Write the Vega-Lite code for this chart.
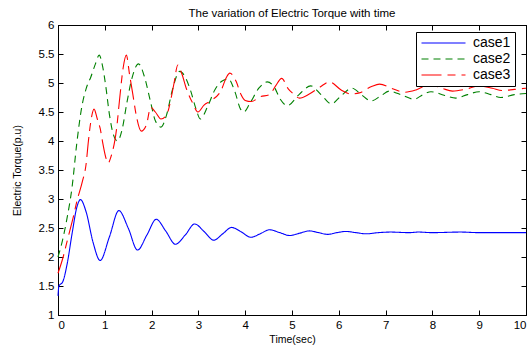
{
  "$schema": "https://vega.github.io/schema/vega-lite/v6.json",
  "autosize": "none",
  "width": 468,
  "height": 290,
  "padding": {"left": 58, "top": 25, "right": 6, "bottom": 30},
  "title": {"text": "The variation of Electric Torque with time", "fontSize": 11.5, "fontWeight": "normal", "font": "Liberation Sans", "color": "black", "offset": 0},
  "datasets": {
    "torque": [
      {"t":0,"v":1.33,"s":"case1"},{"t":0.02,"v":1.5,"s":"case1"},{"t":0.1,"v":1.57,"s":"case1"},{"t":0.2,"v":1.9,"s":"case1"},{"t":0.3,"v":2.4,"s":"case1"},{"t":0.4,"v":2.85,"s":"case1"},{"t":0.48,"v":2.99,"s":"case1"},{"t":0.6,"v":2.78,"s":"case1"},{"t":0.75,"v":2.25,"s":"case1"},{"t":0.9,"v":1.94,"s":"case1"},{"t":1.1,"v":2.35,"s":"case1"},{"t":1.3,"v":2.8,"s":"case1"},{"t":1.5,"v":2.5,"s":"case1"},{"t":1.7,"v":2.12,"s":"case1"},{"t":1.9,"v":2.38,"s":"case1"},{"t":2.1,"v":2.65,"s":"case1"},{"t":2.3,"v":2.45,"s":"case1"},{"t":2.51,"v":2.22,"s":"case1"},{"t":2.72,"v":2.38,"s":"case1"},{"t":2.92,"v":2.57,"s":"case1"},{"t":3.12,"v":2.44,"s":"case1"},{"t":3.33,"v":2.29,"s":"case1"},{"t":3.52,"v":2.4,"s":"case1"},{"t":3.71,"v":2.51,"s":"case1"},{"t":3.92,"v":2.43,"s":"case1"},{"t":4.12,"v":2.34,"s":"case1"},{"t":4.32,"v":2.4,"s":"case1"},{"t":4.52,"v":2.47,"s":"case1"},{"t":4.74,"v":2.42,"s":"case1"},{"t":4.95,"v":2.37,"s":"case1"},{"t":5.16,"v":2.41,"s":"case1"},{"t":5.37,"v":2.45,"s":"case1"},{"t":5.57,"v":2.42,"s":"case1"},{"t":5.76,"v":2.39,"s":"case1"},{"t":5.96,"v":2.42,"s":"case1"},{"t":6.15,"v":2.44,"s":"case1"},{"t":6.37,"v":2.42,"s":"case1"},{"t":6.58,"v":2.4,"s":"case1"},{"t":6.85,"v":2.42,"s":"case1"},{"t":7.1,"v":2.43,"s":"case1"},{"t":7.5,"v":2.42,"s":"case1"},{"t":7.7,"v":2.43,"s":"case1"},{"t":8.0,"v":2.42,"s":"case1"},{"t":8.6,"v":2.43,"s":"case1"},{"t":9.0,"v":2.42,"s":"case1"},{"t":9.5,"v":2.42,"s":"case1"},{"t":10,"v":2.42,"s":"case1"},
      {"t":0,"v":2.0,"s":"case2"},{"t":0.1,"v":2.3,"s":"case2"},{"t":0.2,"v":2.7,"s":"case2"},{"t":0.3,"v":3.2,"s":"case2"},{"t":0.4,"v":3.95,"s":"case2"},{"t":0.5,"v":4.55,"s":"case2"},{"t":0.6,"v":4.9,"s":"case2"},{"t":0.7,"v":5.1,"s":"case2"},{"t":0.8,"v":5.33,"s":"case2"},{"t":0.88,"v":5.48,"s":"case2"},{"t":0.95,"v":5.3,"s":"case2"},{"t":1.02,"v":4.95,"s":"case2"},{"t":1.1,"v":4.45,"s":"case2"},{"t":1.18,"v":4.12,"s":"case2"},{"t":1.27,"v":4.0,"s":"case2"},{"t":1.37,"v":4.2,"s":"case2"},{"t":1.47,"v":4.65,"s":"case2"},{"t":1.57,"v":5.05,"s":"case2"},{"t":1.72,"v":5.33,"s":"case2"},{"t":1.85,"v":5.1,"s":"case2"},{"t":1.97,"v":4.7,"s":"case2"},{"t":2.08,"v":4.35,"s":"case2"},{"t":2.2,"v":4.24,"s":"case2"},{"t":2.32,"v":4.45,"s":"case2"},{"t":2.45,"v":4.9,"s":"case2"},{"t":2.6,"v":5.2,"s":"case2"},{"t":2.72,"v":5.1,"s":"case2"},{"t":2.84,"v":4.85,"s":"case2"},{"t":2.95,"v":4.55,"s":"case2"},{"t":3.04,"v":4.38,"s":"case2"},{"t":3.2,"v":4.6,"s":"case2"},{"t":3.35,"v":4.88,"s":"case2"},{"t":3.5,"v":5.03,"s":"case2"},{"t":3.64,"v":5.07,"s":"case2"},{"t":3.78,"v":4.85,"s":"case2"},{"t":3.9,"v":4.55,"s":"case2"},{"t":3.97,"v":4.5,"s":"case2"},{"t":4.1,"v":4.65,"s":"case2"},{"t":4.3,"v":4.92,"s":"case2"},{"t":4.47,"v":5.02,"s":"case2"},{"t":4.62,"v":4.93,"s":"case2"},{"t":4.75,"v":4.72,"s":"case2"},{"t":4.9,"v":4.61,"s":"case2"},{"t":5.15,"v":4.8,"s":"case2"},{"t":5.4,"v":4.95,"s":"case2"},{"t":5.62,"v":4.8,"s":"case2"},{"t":5.84,"v":4.64,"s":"case2"},{"t":6.05,"v":4.78,"s":"case2"},{"t":6.28,"v":4.91,"s":"case2"},{"t":6.48,"v":4.8,"s":"case2"},{"t":6.69,"v":4.69,"s":"case2"},{"t":6.9,"v":4.78,"s":"case2"},{"t":7.08,"v":4.86,"s":"case2"},{"t":7.35,"v":4.79,"s":"case2"},{"t":7.61,"v":4.72,"s":"case2"},{"t":7.8,"v":4.8,"s":"case2"},{"t":7.97,"v":4.85,"s":"case2"},{"t":8.25,"v":4.79,"s":"case2"},{"t":8.5,"v":4.74,"s":"case2"},{"t":8.75,"v":4.8,"s":"case2"},{"t":9.0,"v":4.85,"s":"case2"},{"t":9.25,"v":4.8,"s":"case2"},{"t":9.46,"v":4.75,"s":"case2"},{"t":9.75,"v":4.8,"s":"case2"},{"t":10,"v":4.82,"s":"case2"},
      {"t":0,"v":1.72,"s":"case3"},{"t":0.11,"v":2.0,"s":"case3"},{"t":0.2,"v":2.29,"s":"case3"},{"t":0.33,"v":2.7,"s":"case3"},{"t":0.4,"v":2.95,"s":"case3"},{"t":0.52,"v":3.3,"s":"case3"},{"t":0.6,"v":3.6,"s":"case3"},{"t":0.65,"v":4.0,"s":"case3"},{"t":0.7,"v":4.33,"s":"case3"},{"t":0.77,"v":4.55,"s":"case3"},{"t":0.84,"v":4.38,"s":"case3"},{"t":0.9,"v":4.22,"s":"case3"},{"t":0.96,"v":3.95,"s":"case3"},{"t":1.02,"v":3.72,"s":"case3"},{"t":1.07,"v":3.62,"s":"case3"},{"t":1.14,"v":3.75,"s":"case3"},{"t":1.25,"v":4.2,"s":"case3"},{"t":1.32,"v":4.75,"s":"case3"},{"t":1.39,"v":5.25,"s":"case3"},{"t":1.46,"v":5.48,"s":"case3"},{"t":1.53,"v":5.14,"s":"case3"},{"t":1.6,"v":4.8,"s":"case3"},{"t":1.67,"v":4.45,"s":"case3"},{"t":1.78,"v":4.17,"s":"case3"},{"t":1.89,"v":4.28,"s":"case3"},{"t":1.98,"v":4.58,"s":"case3"},{"t":2.08,"v":4.5,"s":"case3"},{"t":2.2,"v":4.38,"s":"case3"},{"t":2.32,"v":4.45,"s":"case3"},{"t":2.42,"v":4.75,"s":"case3"},{"t":2.48,"v":5.0,"s":"case3"},{"t":2.56,"v":5.31,"s":"case3"},{"t":2.65,"v":5.15,"s":"case3"},{"t":2.74,"v":4.91,"s":"case3"},{"t":2.88,"v":4.65,"s":"case3"},{"t":2.99,"v":4.5,"s":"case3"},{"t":3.12,"v":4.62,"s":"case3"},{"t":3.28,"v":4.7,"s":"case3"},{"t":3.49,"v":4.88,"s":"case3"},{"t":3.6,"v":5.1,"s":"case3"},{"t":3.67,"v":5.17,"s":"case3"},{"t":3.81,"v":5.02,"s":"case3"},{"t":3.9,"v":4.82,"s":"case3"},{"t":4.0,"v":4.7,"s":"case3"},{"t":4.13,"v":4.68,"s":"case3"},{"t":4.31,"v":4.76,"s":"case3"},{"t":4.52,"v":4.8,"s":"case3"},{"t":4.65,"v":4.95,"s":"case3"},{"t":4.78,"v":5.08,"s":"case3"},{"t":4.92,"v":4.9,"s":"case3"},{"t":5.02,"v":4.82,"s":"case3"},{"t":5.16,"v":4.74,"s":"case3"},{"t":5.37,"v":4.81,"s":"case3"},{"t":5.6,"v":4.93,"s":"case3"},{"t":5.8,"v":5.02,"s":"case3"},{"t":6.05,"v":4.88,"s":"case3"},{"t":6.26,"v":4.81,"s":"case3"},{"t":6.44,"v":4.83,"s":"case3"},{"t":6.7,"v":4.94,"s":"case3"},{"t":6.87,"v":4.98,"s":"case3"},{"t":7.15,"v":4.9,"s":"case3"},{"t":7.4,"v":4.84,"s":"case3"},{"t":7.65,"v":4.88,"s":"case3"},{"t":7.93,"v":4.97,"s":"case3"},{"t":8.2,"v":4.91,"s":"case3"},{"t":8.43,"v":4.86,"s":"case3"},{"t":8.7,"v":4.89,"s":"case3"},{"t":9.0,"v":4.95,"s":"case3"},{"t":9.28,"v":4.91,"s":"case3"},{"t":9.49,"v":4.87,"s":"case3"},{"t":9.75,"v":4.89,"s":"case3"},{"t":10,"v":4.91,"s":"case3"}
    ]
  },
  "data": {"name": "torque"},
  "layer": [
    {
      "mark": {"type": "line", "interpolate": "monotone", "strokeWidth": 1.1},
      "encoding": {
        "x": {"field": "t", "type": "quantitative", "scale": {"domain": [0, 10], "nice": false},
          "axis": {"values": [0,1,2,3,4,5,6,7,8,9,10], "title": "Time(sec)", "titlePadding": 4, "format": "d"}},
        "y": {"field": "v", "type": "quantitative", "scale": {"domain": [1, 6], "nice": false, "zero": false},
          "axis": {"values": [1,1.5,2,2.5,3,3.5,4,4.5,5,5.5,6], "title": "Electric Torque(p.u)", "titlePadding": 16, "format": "~g"}},
        "color": {"field": "s", "type": "nominal", "scale": {"domain": ["case1","case2","case3"], "range": ["#0000ff","#008000","#ff0000"]},
          "legend": {"orient": "none", "legendX": 358, "legendY": 7, "title": null,
            "encode": {"symbols": {"update": {"stroke": {"scale": "color", "field": "value"}}}}}},
        "strokeDash": {"field": "s", "type": "nominal", "scale": {"domain": ["case1","case2","case3"], "range": [[1,0],[7,5],[20,6,8,6]]},
          "legend": {"orient": "none", "legendX": 358, "legendY": 7, "title": null}}
      }
    },
    {
      "mark": {"type": "point", "opacity": 0},
      "encoding": {
        "x": {"field": "t", "type": "quantitative", "axis": {"orient": "top", "values": [0,1,2,3,4,5,6,7,8,9,10], "labels": false, "title": null}},
        "y": {"field": "v", "type": "quantitative", "axis": {"orient": "right", "values": [1,1.5,2,2.5,3,3.5,4,4.5,5,5.5,6], "labels": false, "title": null}}
      }
    }
  ],
  "resolve": {"axis": {"x": "independent", "y": "independent"}},
  "config": {
    "font": "Liberation Sans",
    "view": {"stroke": "black", "strokeWidth": 1},
    "axis": {"grid": false, "domainColor": "black", "domainWidth": 1, "tickColor": "black", "tickSize": -5, "labelColor": "black", "titleColor": "black", "labelFontSize": 11.5, "titleFontSize": 10.5, "titleFontWeight": "normal", "labelPadding": 9, "labelFont": "Liberation Sans", "titleFont": "Liberation Sans"},
    "legend": {"strokeColor": "black", "fillColor": "white", "padding": 4, "labelFontSize": 14, "labelFont": "Liberation Sans", "labelColor": "black", "symbolType": "M-1,0H7", "symbolSize": 121, "symbolStrokeWidth": 1.2, "labelOffset": 39, "rowPadding": 2, "cornerRadius": 0}
  }
}
